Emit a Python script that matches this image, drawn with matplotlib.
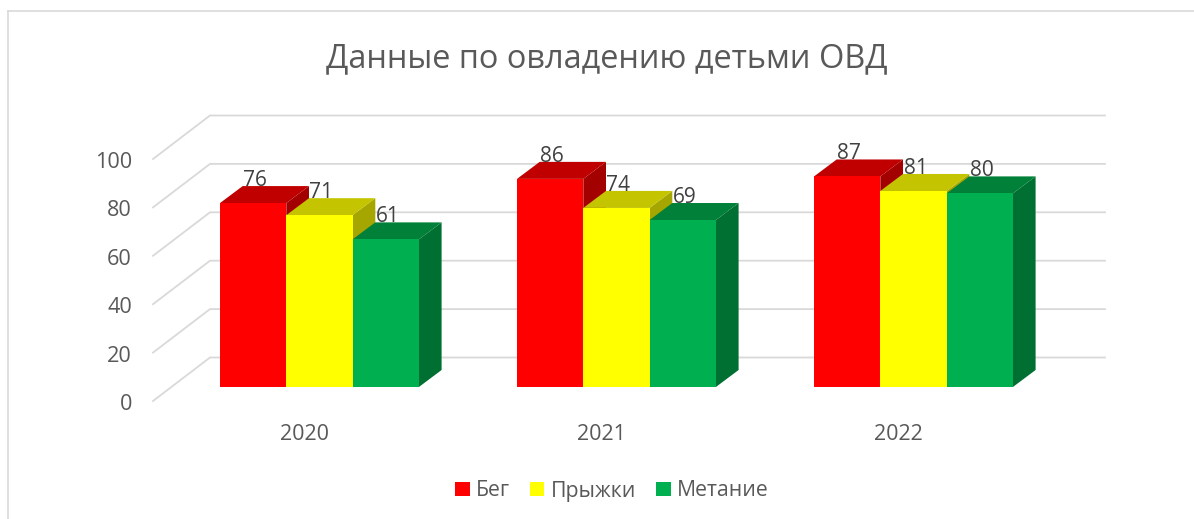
import matplotlib
matplotlib.use("Agg")
from matplotlib import pyplot as plt
from matplotlib.lines import Line2D
from matplotlib.patches import Patch, Polygon

years = ["2020", "2021", "2022"]
series_names = ["Бег", "Прыжки", "Метание"]
run = [76, 86, 87]
jump = [71, 74, 81]
throw = [61, 69, 80]
y_ticks = [0, 20, 40, 60, 80, 100]

front_colors = ["#ff0000", "#ffff00", "#00b050"]
top_colors = ["#c00000", "#c4c400", "#008038"]
side_colors = ["#a30000", "#a6a600", "#006f32"]

W, H = 1194, 519
# one data unit on each axis, in pixels
PX_X = 297.0
PX_Y = 2.42
BASE_PX = 387.0
FIRST_PX = 220.0


def dx(px):
    return px / PX_X


def dy(px):
    return px / PX_Y


fig = plt.figure(figsize=(W / 100, H / 100), dpi=100)
plt.rcParams["font.family"] = ["Open Sans", "DejaVu Sans"]
ax = fig.add_axes([0, 0, 1, 1])
ax.set_xlim(-FIRST_PX / PX_X, (W - FIRST_PX) / PX_X)
ax.set_ylim(-(H - BASE_PX) / PX_Y, BASE_PX / PX_Y)
ax.axis("off")

# chart frame
xf = ax.get_xlim()[0]
ax.add_line(Line2D([xf + dx(8)] * 2, [ax.get_ylim()[0], dy(BASE_PX - 11)], color="#d9d9d9", lw=1.2))
ax.add_line(Line2D([xf + dx(8), ax.get_xlim()[1]], [dy(BASE_PX - 11)] * 2, color="#d9d9d9", lw=1.2))

# floor and back wall gridlines
wall_x0 = xf + dx(153)
wall_x1 = xf + dx(210)
grid_end = xf + dx(1105)
for v in y_ticks:
    y0 = v - dy(14)
    y1 = v + dy(29.5)
    ax.plot([wall_x0, wall_x1, grid_end], [y0, y1, y1], color="#d9d9d9", lw=1.3,
            solid_joinstyle="miter", zorder=1)
    ax.text(xf + dx(132), y0 - dy(1), str(v), ha="right", va="center_baseline",
            fontsize=15.6, color="#595959")

bar_w = dx(66.3)
depth_x = dx(22.7)
depth_y = dy(17)

z = 2
for i, year in enumerate(years):
    for s, values in enumerate([run, jump, throw]):
        v = values[i]
        left = i + s * bar_w
        right = left + bar_w
        ax.add_patch(Polygon([(right, 0), (right + depth_x, depth_y),
                              (right + depth_x, v + depth_y), (right, v)],
                             facecolor=side_colors[s], edgecolor="none", zorder=z))
        ax.add_patch(Polygon([(left, v), (left + depth_x, v + depth_y),
                              (right + depth_x, v + depth_y), (right, v)],
                             facecolor=top_colors[s], edgecolor="none", zorder=z))
        ax.bar(left, v, width=bar_w, align="edge", color=front_colors[s], zorder=z)
        z += 1
    for s, values in enumerate([run, jump, throw]):
        v = values[i]
        ax.text(i + (s + 0.5) * bar_w + dx(2), v + dy(25), str(v), ha="center",
                va="center_baseline", fontsize=15, color="#404040", zorder=50)
    ax.text(i + 1.5 * bar_w - dx(15), -dy(45), year, ha="center", va="center_baseline",
            fontsize=15.5, color="#595959")

ax.text(xf + dx(607), dy(BASE_PX - 55), "Данные по овладению детьми ОВД", ha="center",
        va="center_baseline", fontsize=23.4, color="#595959")

handles = [Patch(facecolor=c, edgecolor="none") for c in front_colors]
ax.legend(handles, series_names, loc="center", bbox_to_anchor=(612 / W, 1 - 491 / H),
          ncol=3, frameon=False, fontsize=15.3, labelcolor="#595959", handlelength=0.67,
          handleheight=0.67, handletextpad=0.3, columnspacing=0.95, borderpad=0)

fig.savefig("out.png", dpi=100)
